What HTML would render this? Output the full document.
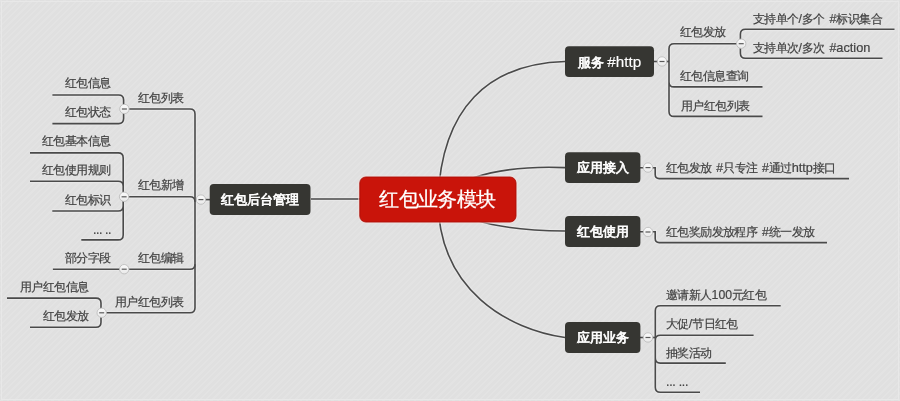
<!DOCTYPE html>
<html><head><meta charset="utf-8"><style>
html,body{margin:0;padding:0}
body{width:900px;height:401px;overflow:hidden;position:relative;font-family:"Liberation Sans",sans-serif;
background-color:#e1e1e1;
background-image:repeating-linear-gradient(135deg,#e3e3e3 0 1.7px,#e0e0e0 1.7px 4.5px);}
.t{position:absolute;white-space:nowrap;color:#424242;letter-spacing:-0.6px;word-spacing:2px;-webkit-text-stroke:0.2px #424242}
.l{letter-spacing:0;font-size:1.04em}
.a{font-size:1.04em}
.l,.a{line-height:0}
.b{position:absolute;color:#fff;text-align:center;white-space:nowrap;}
.t,.b{will-change:transform}
.k{font-style:normal;-webkit-text-stroke:0.7px #fff}
svg{position:absolute;left:0;top:0}
</style></head><body>
<svg width="900" height="401" viewBox="0 0 900 401">
<defs><linearGradient id="cg" x1="0" y1="0" x2="0" y2="1"><stop offset="0" stop-color="#fbfbfb"/><stop offset="1" stop-color="#e9e9e9"/></linearGradient></defs>
<rect x="1.5" y="1.5" width="897" height="398" fill="none" stroke="#e8e8e8" stroke-width="1"/>

<g fill="none" stroke="#e8e8e8" stroke-width="3.8" stroke-linecap="butt">
<path d="M52.4 95H118.6Q123.6 95 123.6 100V118.6M52.4 123.6H118.6Q123.6 123.6 123.6 118.6"/>
<path d="M30 152.9H118.2Q123.2 152.9 123.2 157.9V234.9M30 181.3H118.2Q123.2 181.3 123.2 186.3M52.3 211H118.2Q123.2 211 123.2 206M81.3 239.9H118.2Q123.2 239.9 123.2 234.9"/>
<path d="M52.9 269.2H124.2"/>
<path d="M7 298.1H96Q101 298.1 101 303.1V322.3M30 327.3H96Q101 327.3 101 322.3"/>
<path d="M124.4 109H190Q195 109 195 114V307.8Q195 312.8 190 312.8H101.7"/>
<path d="M124.1 196.8H190Q195 196.8 195 201.8"/>
<path d="M124.2 269.2H190Q195 269.2 195 264.2"/>
<path d="M195 199.6H210"/>
<path d="M654 61.5H669"/>
<path d="M741.2 43.8H674Q669 43.8 669 48.8V111.4M762.5 86.9H674Q669 86.9 669 81.9M762.5 116.4H674Q669 116.4 669 111.4"/>
<path d="M894.5 29.3H745.4Q740.4 29.3 740.4 34.3V53.3M882.5 58.3H745.4Q740.4 58.3 740.4 53.3"/>
<path d="M640 167.8H655.2V174.6Q655.2 178.6 659.2 178.6H849"/>
<path d="M640 231.8H655.2V238.6Q655.2 242.6 659.2 242.6H827"/>
<path d="M640 337.5H655.5"/>
<path d="M780.7 305.7H660.3Q655.3 305.7 655.3 310.7V387.3M753.6 335.3H660.3Q655.3 335.3 655.3 340.3M725.8 363.1H660.3Q655.3 363.1 655.3 358.1M700 392.3H660.3Q655.3 392.3 655.3 387.3"/>
<path d="M438 199.5C441.7 108 488.3 63.8 565 61.5"/>
<path d="M438 199.5C443.5 187.3 484.7 164.2 565 167.6"/>
<path d="M438 199.5C456.7 213.4 477 230.1 565 231"/>
<path d="M438 199.5C438.3 291.1 509.3 329.5 565 337.5"/>
<path d="M360 199H311"/>
</g>
<g fill="none" stroke="#4a4a4a" stroke-width="1.6" stroke-linecap="butt">
<path d="M52.4 95H118.6Q123.6 95 123.6 100V118.6M52.4 123.6H118.6Q123.6 123.6 123.6 118.6"/>
<path d="M30 152.9H118.2Q123.2 152.9 123.2 157.9V234.9M30 181.3H118.2Q123.2 181.3 123.2 186.3M52.3 211H118.2Q123.2 211 123.2 206M81.3 239.9H118.2Q123.2 239.9 123.2 234.9"/>
<path d="M52.9 269.2H124.2"/>
<path d="M7 298.1H96Q101 298.1 101 303.1V322.3M30 327.3H96Q101 327.3 101 322.3"/>
<path d="M124.4 109H190Q195 109 195 114V307.8Q195 312.8 190 312.8H101.7"/>
<path d="M124.1 196.8H190Q195 196.8 195 201.8"/>
<path d="M124.2 269.2H190Q195 269.2 195 264.2"/>
<path d="M195 199.6H210"/>
<path d="M654 61.5H669"/>
<path d="M741.2 43.8H674Q669 43.8 669 48.8V111.4M762.5 86.9H674Q669 86.9 669 81.9M762.5 116.4H674Q669 116.4 669 111.4"/>
<path d="M894.5 29.3H745.4Q740.4 29.3 740.4 34.3V53.3M882.5 58.3H745.4Q740.4 58.3 740.4 53.3"/>
<path d="M640 167.8H655.2V174.6Q655.2 178.6 659.2 178.6H849"/>
<path d="M640 231.8H655.2V238.6Q655.2 242.6 659.2 242.6H827"/>
<path d="M640 337.5H655.5"/>
<path d="M780.7 305.7H660.3Q655.3 305.7 655.3 310.7V387.3M753.6 335.3H660.3Q655.3 335.3 655.3 340.3M725.8 363.1H660.3Q655.3 363.1 655.3 358.1M700 392.3H660.3Q655.3 392.3 655.3 387.3"/>
<path d="M438 199.5C441.7 108 488.3 63.8 565 61.5"/>
<path d="M438 199.5C443.5 187.3 484.7 164.2 565 167.6"/>
<path d="M438 199.5C456.7 213.4 477 230.1 565 231"/>
<path d="M438 199.5C438.3 291.1 509.3 329.5 565 337.5"/>
<path d="M360 199H311"/>
</g>
<rect x="358.9" y="176.1" width="158" height="46.8" rx="6.8" fill="none" stroke="#f2e2e0" stroke-width="1"/>
<rect x="359.8" y="177" width="156.2" height="45" rx="6" fill="#c9140a" stroke="#ad0f07" stroke-width="0.9"/>
<rect x="209.7" y="184" width="100.8" height="31.1" rx="4" fill="#363632"/>
<rect x="565" y="46.2" width="89.0" height="30.9" rx="4" fill="#363632"/>
<rect x="565" y="152.2" width="75.4" height="30.8" rx="4" fill="#363632"/>
<rect x="565" y="216.1" width="75.4" height="30.9" rx="4" fill="#363632"/>
<rect x="565" y="322.1" width="75.4" height="30.9" rx="4" fill="#363632"/>
<circle cx="124.4" cy="109" r="4.7" fill="url(#cg)" stroke="#bdbdbd" stroke-width="0.9"/>
<path d="M121.9 109H126.9" stroke="#5a5a5a" stroke-width="1.2"/>
<circle cx="124.1" cy="196.8" r="4.7" fill="url(#cg)" stroke="#bdbdbd" stroke-width="0.9"/>
<path d="M121.6 196.8H126.6" stroke="#5a5a5a" stroke-width="1.2"/>
<circle cx="124.2" cy="269.2" r="4.7" fill="url(#cg)" stroke="#bdbdbd" stroke-width="0.9"/>
<path d="M121.7 269.2H126.7" stroke="#5a5a5a" stroke-width="1.2"/>
<circle cx="101.7" cy="312.8" r="4.7" fill="url(#cg)" stroke="#bdbdbd" stroke-width="0.9"/>
<path d="M99.2 312.8H104.2" stroke="#5a5a5a" stroke-width="1.2"/>
<circle cx="200.9" cy="199.6" r="4.7" fill="url(#cg)" stroke="#bdbdbd" stroke-width="0.9"/>
<path d="M198.4 199.6H203.4" stroke="#5a5a5a" stroke-width="1.2"/>
<circle cx="662" cy="61.5" r="4.7" fill="url(#cg)" stroke="#bdbdbd" stroke-width="0.9"/>
<path d="M659.5 61.5H664.5" stroke="#5a5a5a" stroke-width="1.2"/>
<circle cx="741.2" cy="43.7" r="4.7" fill="url(#cg)" stroke="#bdbdbd" stroke-width="0.9"/>
<path d="M738.7 43.7H743.7" stroke="#5a5a5a" stroke-width="1.2"/>
<circle cx="648" cy="167.6" r="4.7" fill="url(#cg)" stroke="#bdbdbd" stroke-width="0.9"/>
<path d="M645.5 167.6H650.5" stroke="#5a5a5a" stroke-width="1.2"/>
<circle cx="648" cy="232" r="4.7" fill="url(#cg)" stroke="#bdbdbd" stroke-width="0.9"/>
<path d="M645.5 232H650.5" stroke="#5a5a5a" stroke-width="1.2"/>
<circle cx="648" cy="337.5" r="4.7" fill="url(#cg)" stroke="#bdbdbd" stroke-width="0.9"/>
<path d="M645.5 337.5H650.5" stroke="#5a5a5a" stroke-width="1.2"/>
</svg>
<div class="t" style="left:680.33px;top:27.35px;font-size:11.8px;line-height:11.8px;">红包发放</div>
<div class="t" style="left:680.33px;top:71.45px;font-size:11.8px;line-height:11.8px;">红包信息查询</div>
<div class="t" style="left:680.53px;top:100.60px;font-size:11.8px;line-height:11.8px;">用户红包列表</div>
<div class="t" style="left:753.13px;top:13.70px;font-size:11.8px;line-height:11.8px;">支持单个<span class="l">/</span>多个 <span class="l">#</span>标识集合</div>
<div class="t" style="left:753.33px;top:42.50px;font-size:11.8px;line-height:11.8px;">支持单次<span class="l">/</span>多次 <span class="l">#<span class="a">action</span></span></div>
<div class="t" style="left:666.33px;top:162.75px;font-size:11.8px;line-height:11.8px;">红包发放 <span class="l">#</span>只专注 <span class="l">#</span>通过<span class="l"><span class="a">http</span></span>接口</div>
<div class="t" style="left:666.33px;top:226.75px;font-size:11.8px;line-height:11.8px;">红包奖励发放程序 <span class="l">#</span>统一发放</div>
<div class="t" style="left:666.33px;top:289.55px;font-size:11.8px;line-height:11.8px;">邀请新人<span class="l">100</span>元红包</div>
<div class="t" style="left:666.33px;top:318.60px;font-size:11.8px;line-height:11.8px;">大促<span class="l">/</span>节日红包</div>
<div class="t" style="left:666.33px;top:347.50px;font-size:11.8px;line-height:11.8px;">抽奖活动</div>
<div class="t" style="left:666.33px;top:377.00px;font-size:11.8px;line-height:11.8px;font-size:12.3px;letter-spacing:-0.25px;word-spacing:0">... ...</div>
<div class="t" style="right:789.13px;top:78.35px;font-size:11.8px;line-height:11.8px;">红包信息</div>
<div class="t" style="right:789.13px;top:107.15px;font-size:11.8px;line-height:11.8px;">红包状态</div>
<div class="t" style="right:716.33px;top:92.95px;font-size:11.8px;line-height:11.8px;">红包列表</div>
<div class="t" style="right:789.33px;top:136.20px;font-size:11.8px;line-height:11.8px;">红包基本信息</div>
<div class="t" style="right:789.33px;top:165.15px;font-size:11.8px;line-height:11.8px;">红包使用规则</div>
<div class="t" style="right:789.33px;top:194.75px;font-size:11.8px;line-height:11.8px;">红包标识</div>
<div class="t" style="right:788.93px;top:224.50px;font-size:11.8px;line-height:11.8px;font-size:12.3px;letter-spacing:-0.4px;word-spacing:0">... ..</div>
<div class="t" style="right:716.33px;top:180.25px;font-size:11.8px;line-height:11.8px;">红包新增</div>
<div class="t" style="right:789.33px;top:252.75px;font-size:11.8px;line-height:11.8px;">部分字段</div>
<div class="t" style="right:716.33px;top:252.95px;font-size:11.8px;line-height:11.8px;">红包编辑</div>
<div class="t" style="right:811.73px;top:281.95px;font-size:11.8px;line-height:11.8px;">用户红包信息</div>
<div class="t" style="right:811.73px;top:311.05px;font-size:11.8px;line-height:11.8px;">红包发放</div>
<div class="t" style="right:716.33px;top:296.75px;font-size:11.8px;line-height:11.8px;">用户红包列表</div>
<div class="b" style="left:209.7px;width:100.8px;top:192.90px;font-size:13.3px;line-height:13.3px"><i class="k">红包后台管理</i></div>
<div class="b" style="left:565px;width:89.0px;top:55.00px;font-size:13.3px;line-height:13.3px"><i class="k">服务</i> <span style="font-size:1.15em;-webkit-text-stroke:0.15px #fff">#http</span></div>
<div class="b" style="left:565px;width:75.4px;top:160.95px;font-size:13.3px;line-height:13.3px"><i class="k">应用接入</i></div>
<div class="b" style="left:565px;width:75.4px;top:224.90px;font-size:13.3px;line-height:13.3px"><i class="k">红包使用</i></div>
<div class="b" style="left:565px;width:75.4px;top:330.90px;font-size:13.3px;line-height:13.3px"><i class="k">应用业务</i></div>
<div class="b" style="left:359.2px;width:156.6px;top:189.60px;font-size:19.8px;line-height:19.8px;letter-spacing:-0.7px;-webkit-text-stroke:0.25px #fff">红包业务模块</div>
</body></html>
